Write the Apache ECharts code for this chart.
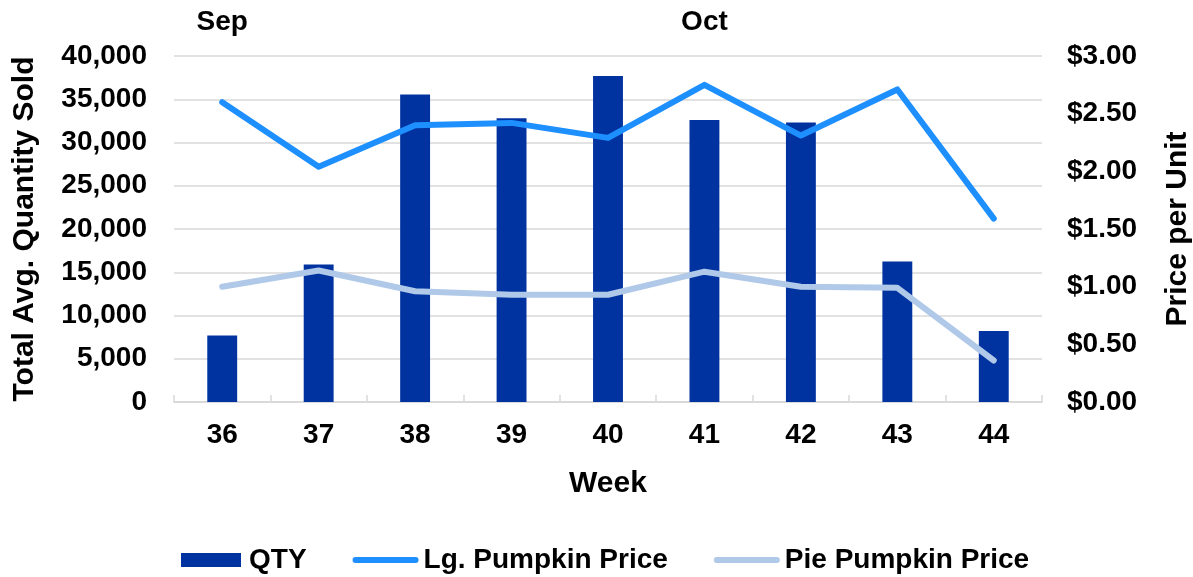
<!DOCTYPE html>
<html>
<head>
<meta charset="utf-8">
<script src="https://cdn.jsdelivr.net/npm/echarts@6/dist/echarts.min.js"></script>
<style>
html,body{margin:0;padding:0;background:#fff;}
#chart{width:1193px;height:577px;}
</style>
</head>
<body>
<div id="chart"></div>
<script>
const weeks = ['36','37','38','39','40','41','42','43','44'];
const monthLabels = ['Sep','','','','','Oct','','',''];
const qty = [7700, 15900, 35550, 32800, 37700, 32600, 32300, 16250, 8200];
const lgPrice = [2.60, 2.04, 2.40, 2.42, 2.29, 2.75, 2.31, 2.71, 1.59];
const piePrice = [1.00, 1.14, 0.96, 0.93, 0.93, 1.13, 1.00, 0.99, 0.36];

const FONT = '"Liberation Sans", Arial, sans-serif';
const txt = {color:'#000', fontFamily: FONT, fontWeight:'bold', fontSize:28};
const titleTxt = Object.assign({}, txt, {fontSize:30});

const COL_BAR = '#0033a0', COL_LG = '#1e8fff', COL_PIE = '#b0c9e8';

const chart = echarts.init(document.getElementById('chart'), null, {renderer:'canvas'});
chart.setOption({
  animation:false,
  backgroundColor:'#fff',
  grid:{left:174, right:151, top:56, bottom:175, containLabel:false, outerBoundsMode:'none'},
  legend:{
    left:181, top:546, padding:0,
    itemWidth:60, itemHeight:14, itemGap:46,
    textStyle:Object.assign({}, txt, {padding:[0,0,0,3]}),
    data:[
      {name:'QTY', icon:'rect'},
      {name:'Lg. Pumpkin Price', itemStyle:{opacity:0}, lineStyle:{width:6, cap:'round', color:COL_LG}},
      {name:'Pie Pumpkin Price', itemStyle:{opacity:0}, lineStyle:{width:6, cap:'round', color:COL_PIE}}
    ]
  },
  xAxis:[
    {
      type:'category', data:weeks, position:'bottom',
      name:'Week', nameLocation:'middle', nameGap:67,
      nameTextStyle:titleTxt,
      axisLine:{show:true, lineStyle:{color:'#d9d9d9', width:1.5}},
      axisTick:{show:false},
      axisLabel:Object.assign({}, txt, {margin:19, interval:0})
    },
    {
      type:'category', data:monthLabels, position:'top',
      axisLine:{show:true, lineStyle:{color:'#d9d9d9', width:1.5}},
      axisTick:{show:true, interval:0, alignWithLabel:false, length:7, lineStyle:{color:'#d9d9d9', width:1.5}},
      axisLabel:Object.assign({}, txt, {margin:20, interval:0})
    }
  ],
  yAxis:[
    {
      type:'value', min:0, max:40000, interval:5000, position:'left',
      name:'Total Avg. Quantity Sold', nameLocation:'middle', nameGap:134, nameRotate:90,
      nameTextStyle:titleTxt,
      axisLine:{show:false}, axisTick:{show:false},
      splitLine:{show:true, lineStyle:{color:'#d9d9d9', width:1.5}},
      axisLabel:Object.assign({}, txt, {margin:27, formatter:v=>v.toLocaleString('en-US')})
    },
    {
      type:'value', min:0, max:3, interval:0.5, position:'right',
      name:'Price per Unit', nameLocation:'middle', nameGap:121, nameRotate:90,
      nameTextStyle:titleTxt,
      axisLine:{show:false}, axisTick:{show:false},
      splitLine:{show:false},
      axisLabel:Object.assign({}, txt, {margin:25, formatter:v=>'$'+v.toFixed(2)})
    }
  ],
  series:[
    {
      name:'QTY', type:'bar', xAxisIndex:0, yAxisIndex:0, data:qty,
      barWidth:'31%', itemStyle:{color:COL_BAR}
    },
    {
      name:'Lg. Pumpkin Price', type:'line', xAxisIndex:0, yAxisIndex:1, data:lgPrice,
      symbol:'none', lineStyle:{color:COL_LG, width:6, cap:'round', join:'round'},
      itemStyle:{color:COL_LG}
    },
    {
      name:'Pie Pumpkin Price', type:'line', xAxisIndex:0, yAxisIndex:1, data:piePrice,
      symbol:'none', lineStyle:{color:COL_PIE, width:6, cap:'round', join:'round'},
      itemStyle:{color:COL_PIE}
    }
  ]
});
</script>
</body>
</html>
